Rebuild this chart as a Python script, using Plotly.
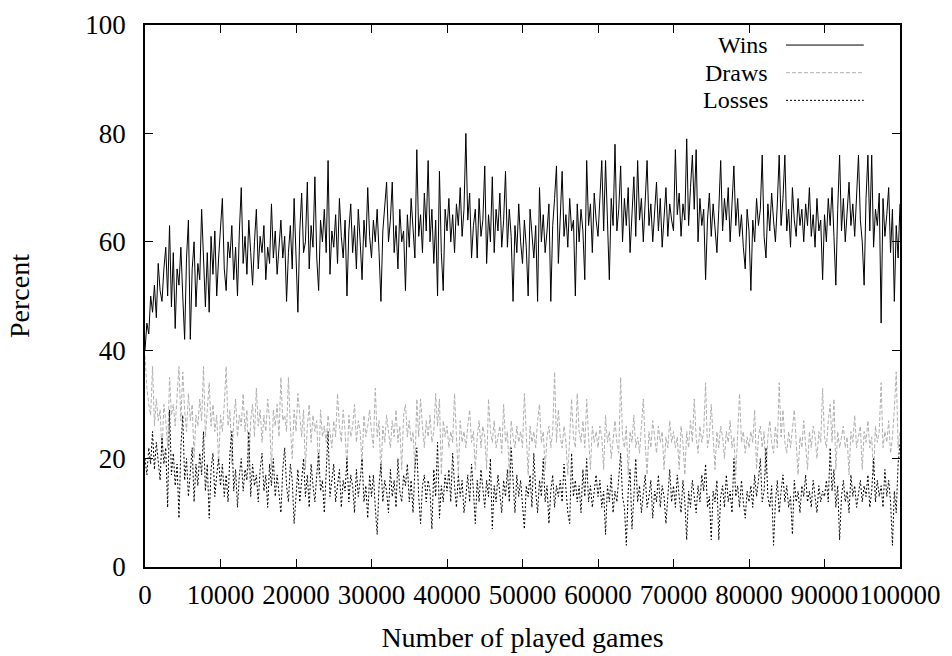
import plotly.graph_objects as go

STEP = 250  # games per sample

wins = [
    40, 45, 43, 50, 47, 52, 46, 56, 51, 49, 55, 59, 50, 63, 48, 58, 44, 55, 52, 59,
    50, 42, 57, 64, 42, 55, 60, 48, 56, 53, 66, 55, 48, 58, 47, 61, 54, 62, 50, 57,
    63, 68, 55, 51, 60, 57, 63, 53, 59, 50, 62, 70, 56, 61, 54, 64, 58, 52, 60, 66,
    55, 61, 58, 63, 53, 59, 56, 67, 57, 62, 54, 60, 64, 57, 61, 49, 58, 63, 55, 68,
    56, 47, 62, 69, 58, 60, 71, 55, 63, 59, 72, 57, 51, 64, 60, 66, 58, 75, 54, 62,
    59, 65, 56, 68, 61, 57, 64, 50, 62, 67, 58, 63, 55, 66, 60, 53, 64, 59, 70, 61,
    57, 64, 60, 66, 58, 49, 62, 67, 71, 60, 64, 71, 58, 63, 55, 66, 60, 62, 51, 65,
    59, 68, 63, 57, 77, 61, 65, 58, 69, 62, 75, 60, 66, 56, 64, 50, 73, 58, 51, 66,
    62, 68, 60, 65, 58, 67, 63, 70, 61, 66, 80, 64, 69, 57, 63, 66, 57, 68, 61, 64,
    74, 56, 65, 60, 72, 58, 66, 62, 69, 59, 64, 73, 59, 66, 61, 49, 63, 58, 67, 60,
    56, 64, 59, 50, 66, 61, 57, 63, 49, 70, 60, 65, 58, 62, 67, 49, 63, 68, 74, 56,
    66, 73, 61, 65, 59, 68, 62, 64, 50, 67, 60, 66, 62, 53, 75, 63, 67, 58, 69, 64,
    61, 67, 75, 62, 75, 64, 53, 68, 63, 78, 62, 66, 74, 60, 68, 63, 70, 58, 66, 72,
    61, 75, 64, 68, 60, 69, 75, 63, 67, 60, 66, 71, 62, 68, 59, 65, 70, 61, 67, 64,
    62, 77, 65, 69, 61, 67, 64, 79, 63, 70, 76, 66, 77, 60, 68, 63, 66, 53, 64, 69,
    61, 67, 63, 58, 66, 75, 62, 68, 64, 70, 60, 66, 74, 63, 68, 61, 65, 59, 55, 66,
    62, 51, 64, 60, 68, 63, 66, 76, 61, 57, 67, 62, 69, 64, 60, 67, 76, 63, 68, 76,
    62, 66, 59, 70, 64, 61, 68, 63, 66, 60, 67, 63, 70, 61, 65, 59, 68, 62, 64, 53,
    65, 60, 68, 63, 70, 61, 52, 66, 76, 62, 68, 60, 66, 71, 63, 67, 61, 69, 76, 64,
    60, 52, 68, 76, 62, 76, 59, 66, 63, 69, 45, 68, 61, 65, 70, 58, 66, 49, 63, 57,
    67,
]

draws = [
    39, 33, 30, 28, 37, 26, 31, 27, 29, 21, 30, 27, 22, 35, 28, 30, 26, 31, 37, 27,
    36, 29, 25, 32, 27, 30, 20, 28, 26, 31, 27, 37, 24, 29, 34, 26, 30, 25, 28, 19,
    28, 25, 30, 37, 26, 29, 19, 27, 31, 24, 28, 26, 32, 25, 29, 18, 27, 30, 24, 33,
    26, 29, 23, 28, 25, 31, 27, 18, 29, 26, 30, 24, 35, 27, 28, 25, 35, 26, 20, 29,
    25, 32, 27, 24, 29, 18, 26, 30, 23, 28, 25, 27, 17, 29, 24, 26, 23, 28, 25, 22,
    27, 24, 32, 26, 23, 29, 25, 18, 28, 24, 26, 30, 23, 27, 25, 19, 28, 24, 26, 29,
    25, 22, 33, 24, 27, 17, 26, 23, 28, 25, 22, 27, 24, 29, 23, 26, 18, 28, 30, 24,
    27, 23, 25, 18, 31, 24, 31, 26, 22, 27, 24, 28, 23, 25, 32, 26, 31, 17, 27, 24,
    26, 22, 25, 23, 32, 24, 17, 27, 23, 25, 22, 26, 29, 23, 25, 18, 24, 27, 22, 26,
    24, 18, 31, 25, 23, 27, 22, 24, 26, 21, 30, 23, 25, 17, 27, 24, 22, 26, 23, 25,
    22, 32, 24, 17, 26, 23, 25, 22, 27, 30, 23, 25, 18, 24, 26, 22, 25, 36, 23, 29,
    24, 22, 26, 23, 17, 25, 31, 24, 22, 32, 25, 23, 27, 22, 31, 24, 18, 26, 23, 25,
    22, 26, 24, 18, 28, 23, 25, 20, 24, 27, 23, 21, 35, 24, 22, 26, 17, 25, 23, 28,
    22, 24, 21, 26, 31, 23, 17, 25, 22, 27, 24, 21, 26, 23, 25, 18, 24, 22, 27, 23,
    25, 22, 24, 18, 26, 23, 17, 25, 22, 27, 23, 31, 24, 21, 26, 23, 25, 34, 22, 24,
    30, 23, 18, 25, 22, 26, 24, 20, 25, 23, 27, 22, 24, 17, 26, 32, 23, 25, 21, 24,
    22, 25, 23, 29, 18, 24, 26, 22, 25, 17, 24, 27, 23, 21, 26, 22, 34, 24, 29, 23,
    21, 25, 22, 26, 29, 23, 17, 24, 22, 27, 23, 18, 25, 22, 26, 24, 20, 25, 23, 33,
    24, 22, 27, 30, 23, 31, 18, 25, 22, 24, 26, 22, 24, 17, 25, 23, 28, 22, 24, 26,
    18, 25, 23, 27, 22, 24, 17, 26, 23, 25, 34, 22, 25, 23, 27, 21, 24, 29, 36, 22,
    25,
]

losses = [
    20, 17, 22, 19, 25, 18, 23, 20, 16, 24, 19, 22, 11, 29, 17, 21, 15, 19, 9, 22,
    28, 16, 20, 13, 18, 22, 12, 19, 15, 21, 17, 25, 14, 19, 9, 18, 21, 13, 17, 20,
    15, 19, 13, 17, 12, 21, 25, 14, 18, 11, 17, 20, 14, 18, 16, 25, 13, 19, 15, 17,
    12, 18, 21, 14, 17, 11, 19, 15, 20, 13, 17, 14, 10, 18, 22, 15, 12, 19, 16, 8,
    14, 18, 12, 16, 20, 13, 17, 11, 19, 15, 12, 17, 21, 14, 16, 10, 18, 25, 13, 16,
    19, 12, 15, 18, 11, 16, 14, 20, 12, 17, 15, 10, 18, 13, 16, 20, 12, 15, 9, 17,
    13, 17, 11, 6, 15, 19, 12, 16, 14, 10, 18, 13, 16, 11, 20, 14, 12, 17, 15, 19,
    12, 16, 10, 18, 22, 13, 8, 15, 17, 12, 16, 14, 7, 18, 13, 23, 9, 15, 12, 17,
    14, 18, 12, 21, 15, 11, 17, 13, 16, 10, 13, 17, 12, 19, 14, 8, 16, 12, 18, 14,
    11, 16, 13, 20, 7, 15, 12, 17, 14, 10, 16, 13, 18, 12, 22, 15, 10, 17, 13, 16,
    12, 7, 15, 13, 17, 11, 21, 14, 10, 16, 13, 20, 12, 15, 8, 14, 17, 11, 15, 13,
    16, 12, 19, 14, 10, 8, 21, 13, 16, 12, 15, 10, 18, 13, 20, 12, 15, 11, 14, 17,
    13, 16, 11, 14, 6, 15, 12, 17, 10, 14, 12, 16, 21, 13, 11, 4, 14, 18, 7, 13,
    20, 12, 15, 10, 14, 17, 11, 13, 16, 9, 14, 12, 17, 11, 15, 13, 8, 14, 18, 12,
    15, 11, 17, 13, 10, 16, 12, 5, 14, 11, 16, 13, 10, 15, 12, 17, 14, 19, 11, 13,
    5, 14, 12, 16, 5, 13, 15, 11, 17, 12, 14, 10, 20, 13, 15, 11, 16, 12, 9, 14,
    12, 15, 11, 17, 13, 16, 20, 12, 14, 22, 13, 11, 15, 4, 12, 16, 10, 14, 17, 12,
    15, 11, 13, 6, 16, 12, 14, 10, 15, 13, 17, 12, 14, 11, 16, 13, 10, 15, 12, 14,
    13, 16, 12, 22, 14, 18, 11, 15, 5, 13, 16, 12, 14, 10, 17, 13, 15, 11, 14, 16,
    12, 15, 13, 17, 11, 14, 20, 12, 16, 13, 15, 11, 18, 13, 16, 12, 4, 14, 10, 19,
    23,
]

x_ticks = [0, 10000, 20000, 30000, 40000, 50000, 60000, 70000, 80000, 90000, 100000]
x_ticktext = [str(v) for v in x_ticks]
y_ticks = [0, 20, 40, 60, 80, 100]

series_names = ["Wins", "Draws", "Losses"]
series_colors = ["#000000", "#b0b0b0", "#000000"]
series_dash = ["solid", "4px,2px", "2px,2px"]

FONT = "Liberation Serif"

fig = go.Figure()
for name, vals, col, dash in zip(series_names, [wins, draws, losses], series_colors, series_dash):
    fig.add_trace(go.Scatter(
        x=[i * STEP for i in range(len(vals))], y=vals, mode="lines", name=name,
        line=dict(color=col, width=1, dash=dash), showlegend=False,
    ))

# gnuplot-style key: right-aligned text with the line sample to its right
key_y = [0.963, 0.912, 0.861]
shapes = []
annotations = []
for name, col, dash, ky in zip(series_names, series_colors, series_dash, key_y):
    annotations.append(dict(
        xref="paper", yref="paper", x=0.826, y=ky, text=name, showarrow=False,
        xanchor="right", yanchor="middle", borderpad=0,
        font=dict(family=FONT, size=24, color="black"),
    ))
    shapes.append(dict(
        type="line", xref="paper", yref="paper", x0=0.849, x1=0.952, y0=ky, y1=ky,
        line=dict(color=col, width=1, dash=dash),
    ))

axis_common = dict(
    showline=True, linecolor="black", linewidth=1.5, mirror="ticks",
    ticks="inside", ticklen=8, tickwidth=1, tickcolor="black",
    showgrid=False, zeroline=False, automargin=False,
    tickfont=dict(family=FONT, size=27, color="black"),
)

fig.update_layout(
    width=952, height=656,
    margin=dict(l=145, r=52, t=25, b=89),
    paper_bgcolor="white", plot_bgcolor="white",
    xaxis=dict(
        range=[0, 100000], tickvals=x_ticks, ticktext=x_ticktext,
        tickangle=0, ticklabeloverflow="allow",
        ticklabelstandoff=3,
        title=dict(text="Number of played games", font=dict(family=FONT, size=28, color="black"), standoff=18),
        **axis_common,
    ),
    yaxis=dict(
        range=[0, 100], tickvals=y_ticks,
        ticklabelstandoff=12,
        title=dict(text="Percent", font=dict(family=FONT, size=28, color="black"), standoff=48),
        **axis_common,
    ),
    shapes=shapes,
    annotations=annotations,
)

fig.write_html("out.html")
